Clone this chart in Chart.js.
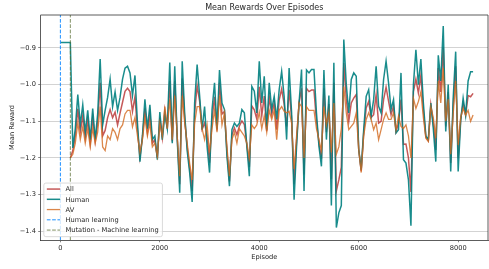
<!DOCTYPE html>
<html>
<head>
<meta charset="utf-8">
<script src="https://cdn.jsdelivr.net/npm/chart.js@4.4.1/dist/chart.umd.min.js"></script>
<style>
  html, body { margin: 0; padding: 0; background: #fff; }
  #wrap { width: 489px; height: 269px; }
</style>
</head>
<body>
<div id="wrap"><canvas id="rewardsChart" width="489" height="269"></canvas></div>
<script>
// episodes, every 50
const episodes = [
  0, 50, 100, 150, 200, 250, 300, 350, 400, 450,
  500, 550, 600, 650, 700, 750, 800, 850, 900, 950,
  1000, 1050, 1100, 1150, 1200, 1250, 1300, 1350, 1400, 1450,
  1500, 1550, 1600, 1650, 1700, 1750, 1800, 1850, 1900, 1950,
  2000, 2050, 2100, 2150, 2200, 2250, 2300, 2350, 2400, 2450,
  2500, 2550, 2600, 2650, 2700, 2750, 2800, 2850, 2900, 2950,
  3000, 3050, 3100, 3150, 3200, 3250, 3300, 3350, 3400, 3450,
  3500, 3550, 3600, 3650, 3700, 3750, 3800, 3850, 3900, 3950,
  4000, 4050, 4100, 4150, 4200, 4250, 4300, 4350, 4400, 4450,
  4500, 4550, 4600, 4650, 4700, 4750, 4800, 4850, 4900, 4950,
  5000, 5050, 5100, 5150, 5200, 5250, 5300, 5350, 5400, 5450,
  5500, 5550, 5600, 5650, 5700, 5750, 5800, 5850, 5900, 5950,
  6000, 6050, 6100, 6150, 6200, 6250, 6300, 6350, 6400, 6450,
  6500, 6550, 6600, 6650, 6700, 6750, 6800, 6850, 6900, 6950,
  7000, 7050, 7100, 7150, 7200, 7250, 7300, 7350, 7400, 7450,
  7500, 7550, 7600, 7650, 7700, 7750, 7800, 7850, 7900, 7950,
  8000, 8050, 8100, 8150, 8200, 8250, 8300
];

const allRewards = [
  null, null, null, null, -1.2, -1.18, -1.14, -1.066, -1.13, -1.085,
  -1.145, -1.095, -1.16, -1.09, -1.155, -1.105, -0.995, -1.14, -1.125, -1.09,
  -1.068, -1.09, -1.075, -1.11, -1.078, -1.048, -1.018, -1.01, -1.019, -1.073,
  -1.033, -1.123, -1.198, -1.145, -1.065, -1.13, -1.08, -1.16, -1.15, -1.2,
  -1.09, -1.145, -1.07, -1.12, -0.99, -1.155, -0.99, -1.145, -1.272, -0.983,
  -1.093, -1.17, -1.228, -1.29, -1.078, -1.003, -1.045, -1.122, -1.105, -1.139,
  -1.213, -1.094, -1.033, -1.125, -0.995, -1.08, -1.073, -1.183, -1.264, -1.137,
  -1.118, -1.137, -1.113, -1.099, -1.109, -1.164, -1.225, -1.058, -1.069, -1.094,
  -1.006, -1.085, -1.031, -1.127, -1.033, -1.082, -1.051, -1.123, -1.042, -1.012,
  -1.053, -1.114, -1.014, -1.091, -1.272, -1.154, -1.05, -1.01, -1.245, -1.01,
  -1.019, -1.015, -1.015, -1.099, -1.159, -1.202, -1.01, -1.13, -1.053, -1.258,
  -0.995, -1.29, -1.26, -1.225, -0.941, -1.039, -1.1, -1.05, -1.037, -1.027,
  -1.177, -1.236, -1.132, -1.064, -1.046, -1.09, -1.082, -1.028, -1.105, -1.1,
  -1.041, -1.007, -1.045, -1.082, -1.059, -1.128, -1.105, -1.041, -1.163, -1.162,
  -1.2, -1.293, -1.019, -0.985, -1.023, -0.975, -1.07, -1.143, -1.153, -1.055,
  -1.105, -1.178, -0.955, -1.02, -0.898, -1.114, -1.02, -1.214, -1.059, -0.95,
  -1.201, -1.095, -1.051, -1.083, -1.03, -1.033, -1.024
];

const humanRewards = [
  -0.885, -0.885, -0.885, -0.885, -0.885, -1.173, -1.12, -1.027, -1.11, -1.055,
  -1.13, -1.07, -1.15, -1.065, -1.15, -1.08, -0.93, -1.11, -1.07, -1.035,
  -0.985, -1.06, -1.02, -1.07, -1.035, -0.985, -0.955, -0.95, -0.968, -1.03,
  -0.975, -1.105, -1.21, -1.14, -1.04, -1.12, -1.055, -1.15, -1.14, -1.205,
  -1.075, -1.15, -1.08, -1.12, -0.94, -1.16, -0.95, -1.15, -1.295, -0.936,
  -1.08, -1.18, -1.24, -1.32, -1.05, -0.945, -1.03, -1.123, -1.06, -1.168,
  -1.24, -1.068, -0.995, -1.12, -0.96, -1.05, -1.068, -1.195, -1.277, -1.123,
  -1.105, -1.114, -1.105, -1.068, -1.077, -1.168, -1.25, -1.005, -1.018, -1.077,
  -0.936, -1.05, -0.977, -1.123, -0.995, -1.068, -1.032, -1.095, -1.014, -0.964,
  -1.032, -1.15, -0.955, -1.077, -1.314, -1.168, -1.05, -0.959, -1.29, -0.96,
  -0.968, -0.959, -0.959, -1.077, -1.168, -1.223, -0.96, -1.15, -1.03, -1.33,
  -0.94, -1.39, -1.35, -1.33, -0.877, -1.0, -1.077, -0.986, -0.968, -0.977,
  -1.177, -1.232, -1.123, -1.032, -1.014, -1.086, -1.041, -0.95, -1.059, -1.077,
  -0.986, -0.936, -0.995, -1.068, -1.041, -1.132, -1.123, -0.968, -1.205, -1.214,
  -1.26, -1.385, -1.0, -0.905, -1.0, -0.93, -1.05, -1.14, -1.15, -1.05,
  -1.12, -1.21, -0.92, -0.99, -0.84, -1.128, -1.0, -1.237, -1.037, -0.91,
  -1.237, -1.1, -1.037, -1.083, -0.99, -0.965, -0.965
];

const avRewards = [
  null, null, null, null, -1.2, -1.19, -1.16, -1.105, -1.15, -1.115,
  -1.16, -1.12, -1.17, -1.12, -1.16, -1.13, -1.06, -1.17, -1.18, -1.14,
  -1.15, -1.12, -1.13, -1.15, -1.12, -1.11, -1.08, -1.07, -1.07, -1.115,
  -1.09, -1.14, -1.185, -1.15, -1.09, -1.14, -1.105, -1.17, -1.16, -1.195,
  -1.105, -1.14, -1.06, -1.12, -1.04, -1.15, -1.03, -1.14, -1.25, -1.03,
  -1.105, -1.16, -1.215, -1.26, -1.105, -1.06, -1.06, -1.12, -1.15, -1.11,
  -1.186, -1.12, -1.07, -1.13, -1.03, -1.11, -1.077, -1.17, -1.25, -1.15,
  -1.13, -1.16, -1.12, -1.13, -1.14, -1.16, -1.2, -1.11, -1.12, -1.11,
  -1.075, -1.12, -1.085, -1.13, -1.07, -1.095, -1.07, -1.15, -1.07, -1.06,
  -1.073, -1.077, -1.073, -1.105, -1.23, -1.14, -1.05, -1.06, -1.2, -1.06,
  -1.07, -1.07, -1.07, -1.12, -1.15, -1.18, -1.06, -1.11, -1.075, -1.185,
  -1.05, -1.19, -1.17, -1.12, -1.005, -1.077, -1.123, -1.114, -1.105, -1.077,
  -1.177, -1.24, -1.14, -1.095, -1.077, -1.095, -1.123, -1.105, -1.15, -1.123,
  -1.095, -1.077, -1.095, -1.095, -1.077, -1.123, -1.086, -1.114, -1.12, -1.11,
  -1.14, -1.2, -1.037, -1.065, -1.046, -1.02, -1.09, -1.146, -1.155, -1.06,
  -1.09, -1.146, -0.99, -1.05, -0.955, -1.1, -1.04, -1.19, -1.08, -0.99,
  -1.165, -1.09, -1.065, -1.083, -1.07, -1.1, -1.083
];

// where the phases start (vertical dashed lines)
const phaseMarks = [0, 200];
const phaseNames = ['Human learning', 'Mutation - Machine learning'];

const xTicks = [0, 2000, 4000, 6000, 8000];
const yTicks = [-1.4, -1.3, -1.2, -1.1, -1.0, -0.9];
const xRange = [-400, 8600];
const yRange = [-1.424, -0.81];

const legendOrder = ['All', 'Human', 'AV', 'Human learning', 'Mutation - Machine learning'];

const TXT = '#262626';
const FS = 6.67;
Chart.defaults.font.family = "'DejaVu Sans', sans-serif";
Chart.defaults.color = TXT;

function serie(vals) {
  return episodes.map((e, i) => ({ x: e, y: vals[i] }));
}
function vline(x) {
  return [{ x: x, y: yRange[0] }, { x: x, y: yRange[1] }];
}

// top and right spines, like matplotlib's box
const framePlugin = {
  id: 'frame',
  afterDatasetsDraw(chart) {
    const { ctx, chartArea: a } = chart;
    ctx.save();
    ctx.strokeStyle = '#333';
    ctx.lineWidth = 0.8;
    ctx.beginPath();
    ctx.moveTo(a.left, a.top);
    ctx.lineTo(a.right, a.top);
    ctx.lineTo(a.right, a.bottom);
    ctx.stroke();
    ctx.restore();
  }
};

// legend drawn inside the plot, lower left
const insideLegend = {
  id: 'insideLegend',
  afterDatasetsDraw(chart) {
    const { ctx, chartArea: a } = chart;
    const pad = FS * 0.5;
    const rowH = 10.25;
    const boxW = 118.6, boxH = 53.6;
    const x0 = a.left + pad, y0 = a.bottom - pad - boxH;
    ctx.save();
    ctx.fillStyle = 'rgba(255,255,255,0.8)';
    ctx.strokeStyle = '#d0d0d0';
    ctx.lineWidth = 0.8;
    ctx.beginPath();
    ctx.roundRect(x0, y0, boxW, boxH, 2);
    ctx.fill();
    ctx.stroke();
    ctx.font = FS + "px 'DejaVu Sans', sans-serif";
    ctx.textBaseline = 'middle';
    legendOrder.forEach((name, i) => {
      const ds = chart.data.datasets.find(d => d.label === name);
      const cy = y0 + 6 + i * rowH;
      ctx.strokeStyle = ds.borderColor;
      ctx.lineWidth = ds.borderWidth;
      ctx.setLineDash(ds.borderDash || []);
      ctx.beginPath();
      ctx.moveTo(x0 + 3, cy);
      ctx.lineTo(x0 + 3 + FS * 2, cy);
      ctx.stroke();
      ctx.setLineDash([]);
      ctx.fillStyle = TXT;
      ctx.fillText(name, x0 + 3 + FS * 2.8, cy + 0.5);
    });
    ctx.restore();
  }
};

const lineBase = { pointRadius: 0, tension: 0, fill: false, spanGaps: false };

new Chart(document.getElementById('rewardsChart'), {
  type: 'line',
  data: {
    datasets: [
      { ...lineBase, label: 'All', data: serie(allRewards), borderColor: 'rgba(178,34,34,0.75)', borderWidth: 1.5, order: 5 },
      { ...lineBase, label: 'Human', data: serie(humanRewards), borderColor: 'rgba(0,128,128,0.9)', borderWidth: 1.5, order: 4 },
      { ...lineBase, label: 'AV', data: serie(avRewards), borderColor: 'rgba(210,105,30,0.8)', borderWidth: 1.3, order: 3 },
      { ...lineBase, label: phaseNames[0], data: vline(phaseMarks[0]), borderColor: '#1e90ff', borderWidth: 1, borderDash: [3.7, 1.6], order: 2 },
      { ...lineBase, label: phaseNames[1], data: vline(phaseMarks[1]), borderColor: 'rgba(85,107,47,0.75)', borderWidth: 1, borderDash: [3.7, 1.6], order: 1 }
    ]
  },
  options: {
    responsive: false,
    animation: false,
    devicePixelRatio: 1,
    layout: { padding: { left: 0, right: 1, top: 0, bottom: 0 } },
    plugins: {
      legend: { display: false },
      tooltip: { enabled: false },
      title: {
        display: true,
        text: 'Mean Rewards Over Episodes',
        fullSize: false,
        color: TXT,
        font: { size: 8, weight: 'normal' },
        padding: { top: 3, bottom: 2.4 }
      }
    },
    scales: {
      x: {
        type: 'linear',
        min: xRange[0],
        max: xRange[1],
        afterBuildTicks: s => { s.ticks = xTicks.map(v => ({ value: v })); },
        afterFit: s => { s.height = 29; },
        grid: { drawOnChartArea: false, drawTicks: true, tickLength: 2.3, tickColor: '#333', tickWidth: 0.6 },
        border: { display: true, color: '#333', width: 0.8 },
        ticks: { color: TXT, font: { size: FS }, padding: 2.3, maxRotation: 0, autoSkip: false, callback: v => String(v) },
        title: { display: true, text: 'Episode', color: TXT, font: { size: FS }, padding: { top: 0, bottom: 7.3 } }
      },
      y: {
        min: yRange[0],
        max: yRange[1],
        afterBuildTicks: s => { s.ticks = yTicks.map(v => ({ value: v })); },
        afterFit: s => { s.width = 40.5; },
        grid: { color: '#d3d3d3', lineWidth: 1, drawTicks: true, tickLength: 2.3, tickColor: '#333', tickWidth: 0.6 },
        border: { display: true, color: '#333', width: 0.8 },
        ticks: { color: TXT, font: { size: FS }, padding: 2.3, autoSkip: false,
          callback: v => (v < 0 ? '\u2212' : '') + Math.abs(v).toFixed(1) },
        title: { display: true, text: 'Mean Reward', color: TXT, font: { size: FS }, padding: { top: 8.7, bottom: 0 } }
      }
    }
  },
  plugins: [framePlugin, insideLegend]
});
</script>
</body>
</html>
